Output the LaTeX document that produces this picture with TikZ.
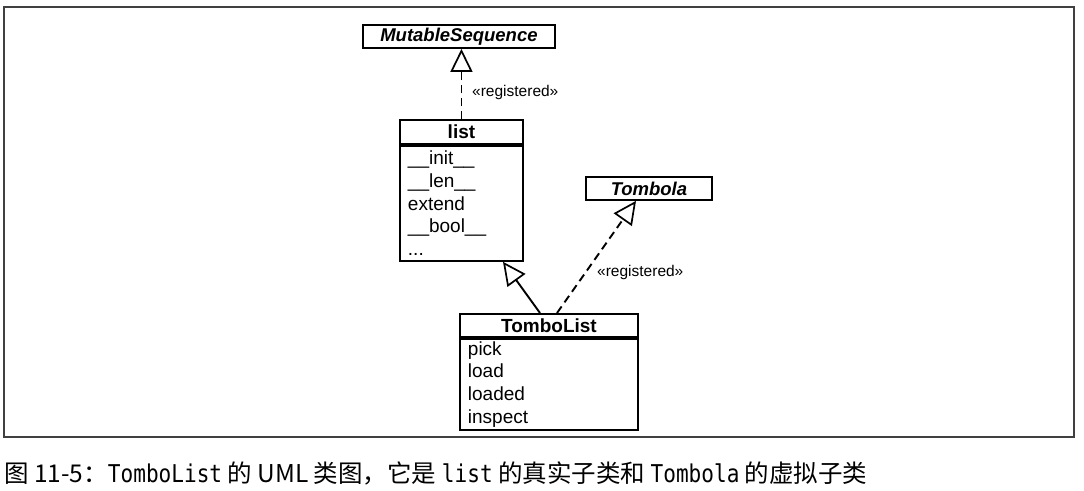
\documentclass[tikz,border=0pt]{standalone}
\usepackage{fontspec}
\setmainfont{Liberation Sans}
\newfontfamily\cjk{Noto Sans CJK SC}
\newfontfamily\mn{DejaVu Sans Mono}
\usetikzlibrary{arrows.meta,calc}
\newcommand{\mnt}[1]{\scalebox{0.86}[1]{\mn #1}}
\begin{document}
\begin{tikzpicture}[x=1pt,y=-1pt,
  classhdr/.style={draw, line width=1.9pt, anchor=north west, inner sep=0pt,
    font=\fontsize{19}{22}\selectfont\bfseries},
  classbody/.style={draw, line width=1.9pt, anchor=north west, inner xsep=8pt, inner ysep=0pt,
    align=left, font=\fontsize{19}{22.7}\selectfont},
  abstracthdr/.style={classhdr, font=\fontsize{18.5}{22}\selectfont\bfseries\itshape},
  tip/.style={-{Triangle[open,length=23pt,width=22pt,line width=1.7pt]}},
  realize/.style={tip, line width=1.9pt, dash pattern=on 8pt off 5pt},
  inherit/.style={tip, line width=1.9pt},
  stereo/.style={font=\fontsize{15.5}{18}\selectfont, anchor=west, inner sep=0pt}
]
\useasboundingbox (0,0) rectangle (1084,490);
\draw[line width=1.5pt, draw=black!75] (4,7) rectangle (1074,437);

% MutableSequence
\node[abstracthdr, minimum width=192pt, minimum height=23pt] (ms) at (362,24) {MutableSequence};

% list
\node[classhdr, minimum width=123pt, minimum height=24pt] (listh) at (399,119) {list};
\node[classbody, minimum width=123pt, minimum height=115pt, text width=107pt] (listb) at (listh.south west)
  {\_\_init\_\_\\\_\_len\_\_\\extend\\\_\_bool\_\_\\...};

% Tombola
\node[abstracthdr, minimum width=126pt, minimum height=23pt] (tomb) at (585,176) {Tombola};

% TomboList
\node[classhdr, minimum width=178pt, minimum height=23pt] (tlh) at (459,313) {TomboList};
\node[classbody, minimum width=178pt, minimum height=91pt, text width=162pt] (tlb) at (tlh.south west)
  {pick\\load\\loaded\\inspect};

% connectors
\draw[realize] (listh.north) -- (listh.north |- ms.south);
\node[stereo] (reg1) at (472,92) {«registered»};

\coordinate (tlsolid) at ($(tlh.north west)+(81,0)$);
\coordinate (listtip) at ($(listb.south west)+(104,0)$);
\draw[inherit] (tlsolid) -- (listtip);

\coordinate (tldash) at ($(tlh.north west)+(98,0)$);
\coordinate (tombtip) at ($(tomb.south west)+(51,0)$);
\draw[realize] (tldash) -- (tombtip);
\node[stereo] (reg2) at (597,272) {«registered»};

% caption
\node[anchor=west, inner sep=0pt, font=\fontsize{24.5}{28}\selectfont] (cap) at (4,473)
  {{\cjk 图 11-5：}\mnt{TomboList}{\cjk\ 的 UML 类图，它是 }\mnt{list}{\cjk\ 的真实子类和 }\mnt{Tombola}{\cjk\ 的虚拟子类}};
\end{tikzpicture}
\end{document}
